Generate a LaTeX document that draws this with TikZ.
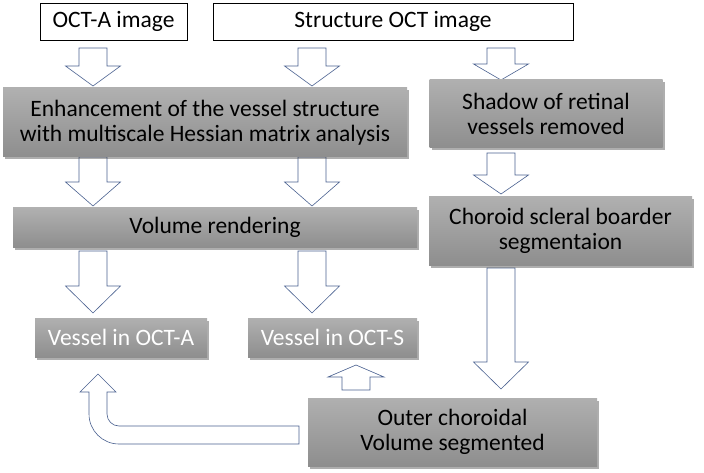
\documentclass[tikz,border=0pt]{standalone}
\usepackage{fontspec}
\setmainfont{Carlito}
\usetikzlibrary{shadows}
\definecolor{arrowline}{HTML}{4A6190}
\definecolor{boxtop}{HTML}{B0B0B0}
\definecolor{boxbot}{HTML}{8E8E8E}
\tikzset{
  whitebox/.style={draw=black, line width=0.8pt, fill=white, inner sep=0pt, font=\fontsize{23.5}{25}\selectfont},
  graybox/.style={inner sep=0pt, top color=boxtop, bottom color=boxbot, draw=none,
     drop shadow={shadow xshift=2pt, shadow yshift=-2.5pt, opacity=0.45, fill=black!70},
     font=\fontsize{23.5}{25}\selectfont, align=center},
  blk/.style={draw=arrowline, line width=0.6pt, fill=white, line join=miter},
}
% down block arrow: x, shaft top, head base, tip
\newcommand{\dblk}[4]{\draw[blk] (#1-14,#2) -- (#1+14,#2) -- (#1+14,#3) -- (#1+27.5,#3) -- (#1,#4) -- (#1-27.5,#3) -- (#1-14,#3) -- cycle;}
\begin{document}
\begin{tikzpicture}[x=1pt,y=-1pt]
\useasboundingbox (0,0) rectangle (704,473);
% arrows (behind boxes)
\dblk{93}{48}{66}{86}
\dblk{312}{48}{66}{86}
\dblk{501}{48}{64}{80}
\dblk{93}{157}{182}{206}
\dblk{312}{157}{182}{206}
\dblk{501}{153}{175}{194}
\dblk{93}{251}{286}{313}
\dblk{312}{251}{286}{313}
\dblk{501}{268}{362}{389}
% up small arrow
\draw[blk] (342,390) -- (370,390) -- (370,377) -- (384,377) -- (356,365) -- (328,377) -- (342,377) -- cycle;
% U-turn arrow
\draw[blk] (299,426) -- (119,426) arc[start angle=90, end angle=180, radius=12] -- (107,392) -- (116,392) -- (98,374) -- (80,392) -- (89,392) -- (89,414) arc[start angle=180, end angle=90, radius=30] -- (299,444) -- cycle;
% boxes
\node[whitebox, minimum width=147pt, minimum height=37pt] (octa) at (113.5,21.5) {OCT-A image};
\node[whitebox, minimum width=360pt, minimum height=37pt] (soct) at (393,21.5) {Structure OCT image};
\node[graybox, minimum width=404pt, minimum height=69pt] (enh) at (205,122.5) {Enhancement of the vessel structure\\with multiscale Hessian matrix analysis};
\node[graybox, minimum width=233pt, minimum height=68pt] (shadow) at (546,114) {Shadow of retinal\\vessels removed};
\node[graybox, minimum width=404pt, minimum height=39pt] (vol) at (215,227.5) {Volume rendering};
\node[graybox, minimum width=263pt, minimum height=68pt] (chor) at (560.5,231) {Choroid scleral boarder\\segmentaion};
\node[graybox, minimum width=172pt, minimum height=39pt, text=white] (va) at (121,337.5) {Vessel in OCT-A};
\node[graybox, minimum width=169pt, minimum height=39pt, text=white] (vs) at (332.5,337.5) {Vessel in OCT-S};
\node[graybox, minimum width=289pt, minimum height=68pt] (outer) at (452.5,432) {Outer choroidal\\Volume segmented};
\end{tikzpicture}
\end{document}
